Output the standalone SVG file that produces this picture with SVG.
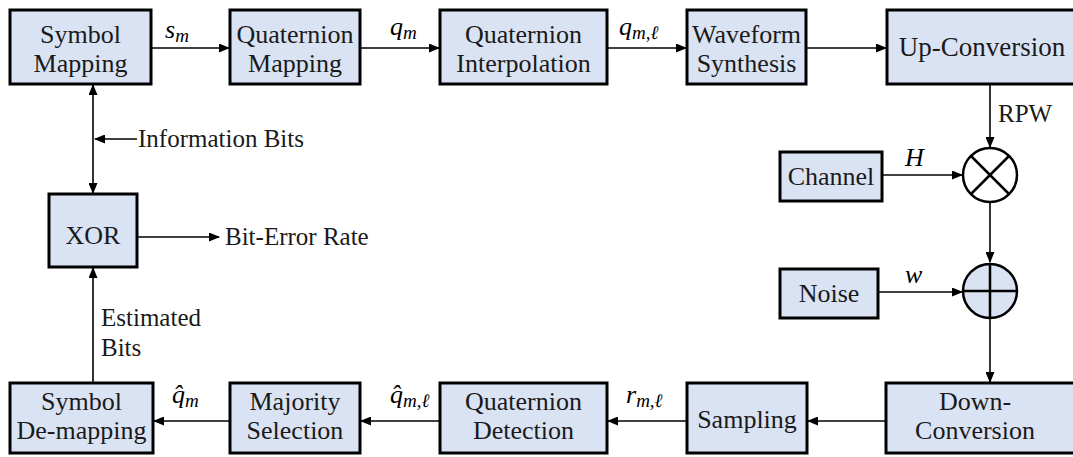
<svg xmlns="http://www.w3.org/2000/svg" width="1073" height="457" viewBox="0 0 1073 457">
<defs>
<marker id="ah" markerUnits="userSpaceOnUse" markerWidth="11" markerHeight="9" refX="10" refY="4.5" orient="auto-start-reverse">
<path d="M0,0 L11,4.5 L0,9 z" fill="#000"/>
</marker>
</defs>
<rect width="1073" height="457" fill="#fff"/>
<g id="connectors" fill="none" stroke="#000" stroke-width="1.6">
<line x1="151" y1="48" x2="229" y2="48" marker-end="url(#ah)"/>
<line x1="360" y1="48" x2="439" y2="48" marker-end="url(#ah)"/>
<line x1="607" y1="48" x2="686" y2="48" marker-end="url(#ah)"/>
<line x1="806" y1="48" x2="886" y2="48" marker-end="url(#ah)"/>
<line x1="990" y1="84" x2="990" y2="147" marker-end="url(#ah)"/>
<line x1="882" y1="175" x2="962" y2="175" marker-end="url(#ah)"/>
<line x1="990" y1="202" x2="990" y2="262" marker-end="url(#ah)"/>
<line x1="878" y1="292" x2="962" y2="292" marker-end="url(#ah)"/>
<line x1="990" y1="318" x2="990" y2="382" marker-end="url(#ah)"/>
<line x1="886" y1="421" x2="808" y2="421" marker-end="url(#ah)"/>
<line x1="687" y1="421" x2="608" y2="421" marker-end="url(#ah)"/>
<line x1="440" y1="421" x2="361" y2="421" marker-end="url(#ah)"/>
<line x1="230" y1="421" x2="154" y2="421" marker-end="url(#ah)"/>
<line x1="93" y1="383" x2="93" y2="268" marker-end="url(#ah)"/>
<line x1="93" y1="85" x2="93" y2="193" marker-start="url(#ah)" marker-end="url(#ah)"/>
<line x1="137" y1="139" x2="95" y2="139" marker-end="url(#ah)"/>
<line x1="137" y1="237" x2="219" y2="237" marker-end="url(#ah)"/>
</g>
<g id="nodes" font-family="Liberation Serif, Times New Roman, serif" font-size="26" text-anchor="middle">
<g id="symbol-mapping"><rect x="10" y="10" width="141" height="74" fill="#dae3f3" stroke="#000" stroke-width="3"/><text x="80.5" y="43" fill="#1a1a1a">Symbol</text><text x="80.5" y="72" fill="#1a1a1a">Mapping</text></g>
<g id="quaternion-mapping"><rect x="230" y="10" width="130" height="74" fill="#dae3f3" stroke="#000" stroke-width="3"/><text x="295" y="43" fill="#1a1a1a">Quaternion</text><text x="295" y="72" fill="#1a1a1a">Mapping</text></g>
<g id="quaternion-interpolation"><rect x="440" y="10" width="167" height="74" fill="#dae3f3" stroke="#000" stroke-width="3"/><text x="523.5" y="43" fill="#1a1a1a">Quaternion</text><text x="523.5" y="72" fill="#1a1a1a">Interpolation</text></g>
<g id="waveform-synthesis"><rect x="687" y="10" width="119" height="74" fill="#dae3f3" stroke="#000" stroke-width="3"/><text x="746.5" y="43" fill="#1a1a1a">Waveform</text><text x="746.5" y="72" fill="#1a1a1a">Synthesis</text></g>
<g id="up-conversion"><rect x="887" y="10" width="200" height="74" fill="#dae3f3" stroke="#000" stroke-width="3"/><text x="982" y="56" font-size="27" fill="#1a1a1a">Up-Conversion</text></g>
<g id="channel"><rect x="780" y="152" width="102" height="49" fill="#dae3f3" stroke="#000" stroke-width="3"/><text x="831" y="185" fill="#1a1a1a">Channel</text></g>
<g id="noise"><rect x="780" y="269" width="98" height="49" fill="#dae3f3" stroke="#000" stroke-width="3"/><text x="829" y="302" fill="#1a1a1a">Noise</text></g>
<g id="multiplier" stroke="#000" stroke-width="2.5"><circle cx="990" cy="175" r="27" fill="#fff"/><line x1="971" y1="156" x2="1009" y2="194"/><line x1="1009" y1="156" x2="971" y2="194"/></g>
<g id="adder" stroke="#000" stroke-width="2.5"><circle cx="990" cy="291" r="27" fill="#dae3f3"/><line x1="963" y1="291" x2="1017" y2="291"/><line x1="990" y1="264" x2="990" y2="318"/></g>
<g id="xor"><rect x="49" y="194" width="88" height="73" fill="#dae3f3" stroke="#000" stroke-width="3"/><text x="93" y="244" fill="#1a1a1a">XOR</text></g>
<g id="symbol-demapping"><rect x="10" y="383" width="143" height="70" fill="#dae3f3" stroke="#000" stroke-width="3"/><text x="81.5" y="410" fill="#1a1a1a">Symbol</text><text x="81.5" y="439" fill="#1a1a1a">De-mapping</text></g>
<g id="majority-selection"><rect x="230" y="383" width="130" height="70" fill="#dae3f3" stroke="#000" stroke-width="3"/><text x="295" y="410" fill="#1a1a1a">Majority</text><text x="295" y="439" fill="#1a1a1a">Selection</text></g>
<g id="quaternion-detection"><rect x="440" y="383" width="167" height="70" fill="#dae3f3" stroke="#000" stroke-width="3"/><text x="523.5" y="410" fill="#1a1a1a">Quaternion</text><text x="523.5" y="439" fill="#1a1a1a">Detection</text></g>
<g id="sampling"><rect x="687" y="383" width="120" height="70" fill="#dae3f3" stroke="#000" stroke-width="3"/><text x="747" y="428" fill="#1a1a1a">Sampling</text></g>
<g id="down-conversion"><rect x="886" y="383" width="200" height="70" fill="#dae3f3" stroke="#000" stroke-width="3"/><text x="975" y="410" fill="#1a1a1a">Down-</text><text x="975" y="439" fill="#1a1a1a">Conversion</text></g>
</g>
<g id="labels" font-family="Liberation Serif, Times New Roman, serif" font-size="25" fill="#1a1a1a">
<text x="138" y="147">Information Bits</text>
<text x="225" y="245">Bit-Error Rate</text>
<text x="101" y="326">Estimated</text>
<text x="101" y="356">Bits</text>
<text x="998" y="122">RPW</text>
</g>
<g id="math-labels" font-family="Liberation Serif, Times New Roman, serif" font-style="italic" font-size="26" fill="#000">
<text x="165" y="38">s<tspan font-size="19" dy="4">m</tspan></text>
<text x="390" y="35">q<tspan font-size="19" dy="4">m</tspan></text>
<text x="619" y="35">q<tspan font-size="19" dy="4">m,ℓ</tspan></text>
<text x="905" y="166">H</text>
<text x="905" y="283">w</text>
<text x="172" y="403">q̂<tspan font-size="19" dy="4">m</tspan></text>
<text x="390" y="403">q̂<tspan font-size="19" dy="4">m,ℓ</tspan></text>
<text x="626" y="403">r<tspan font-size="19" dy="4">m,ℓ</tspan></text>
</g>
</svg>
